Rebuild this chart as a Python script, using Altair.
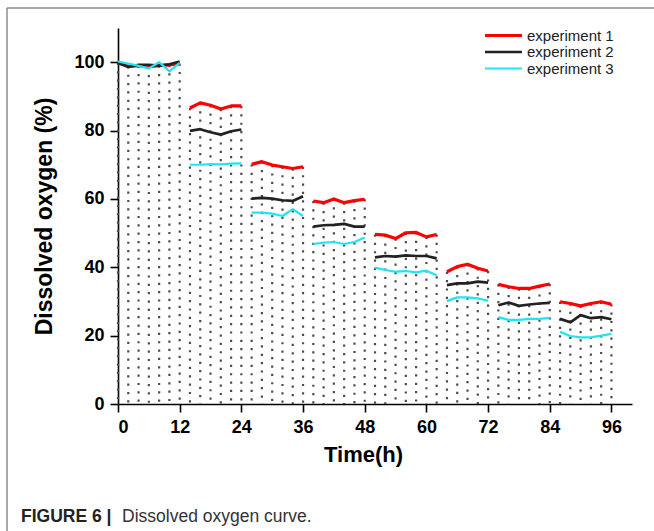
import altair as alt
import pandas as pd

# ---- data ----
times = [0, 2, 4, 6, 8, 10, 12,
         14, 16, 18, 20, 22, 24,
         26, 28, 30, 32, 34, 36,
         38, 40, 42, 44, 46, 48,
         50, 52, 54, 56, 58, 60, 62,
         64, 66, 68, 70, 72,
         74, 76, 78, 80, 82, 84,
         86, 88, 90, 92, 94, 96]
segments = [1] * 7 + [2] * 6 + [3] * 6 + [4] * 6 + [5] * 7 + [6] * 5 + [7] * 6 + [8] * 6

exp1 = [99.8, 98.8, 99.0, 98.7, 99.0, 99.2, 99.6,
        86.6, 88.1, 87.4, 86.3, 87.2, 87.2,
        70.1, 70.9, 69.9, 69.4, 68.9, 69.4,
        59.4, 58.9, 60.0, 58.9, 59.5, 59.9,
        49.6, 49.4, 48.4, 50.1, 50.2, 48.9, 49.6,
        38.7, 40.2, 40.9, 39.7, 38.9,
        35.0, 34.3, 33.8, 33.8, 34.5, 35.1,
        29.9, 29.4, 28.7, 29.4, 29.9, 29.2]
exp2 = [99.8, 98.6, 99.2, 99.2, 99.0, 99.4, 100.2,
        79.9, 80.4, 79.5, 78.8, 79.8, 80.3,
        60.1, 60.3, 60.1, 59.6, 59.4, 60.8,
        51.9, 52.3, 52.4, 52.7, 51.9, 51.9,
        42.9, 43.3, 43.1, 43.5, 43.3, 43.3, 42.6,
        34.8, 35.3, 35.3, 35.8, 35.5,
        28.9, 29.7, 28.7, 29.1, 29.4, 29.6,
        24.9, 23.9, 26.0, 25.1, 25.4, 24.8]
exp3 = [100.2, 99.6, 98.9, 98.2, 100.0, 97.3, 99.8,
        70.0, 70.0, 70.2, 70.1, 70.3, 70.4,
        56.0, 56.0, 55.7, 55.0, 57.0, 55.0,
        46.8, 47.2, 47.4, 46.8, 47.4, 48.7,
        39.9, 39.2, 38.7, 38.9, 38.5, 39.0, 37.7,
        30.1, 31.2, 31.2, 30.9, 30.2,
        25.4, 24.6, 24.6, 24.9, 24.9, 25.2,
        21.1, 19.9, 19.5, 19.5, 20.0, 20.5]

series_names = ["experiment 1", "experiment 2", "experiment 3"]
series_colors = ["#ff0000", "#222222", "#1ee6f2"]
series_widths = [3.2, 2.2, 3.2]

x_tick_values = list(range(0, 97, 6))
y_tick_values = list(range(0, 111, 10))

caption_bold = "FIGURE 6 |"
caption_text = "Dissolved oxygen curve."

# ---- tables ----
rows = []
for name, vals in zip(series_names, [exp1, exp2, exp3]):
    for t, s, v in zip(times, segments, vals):
        rows.append({"time": t, "seg": s, "series": name, "value": v})
df = pd.DataFrame(rows)
drop_df = pd.DataFrame({"time": times, "value": exp1})
legend_df = pd.DataFrame({"series": series_names})
one = pd.DataFrame({"k": [0]})

W, H = 514, 376
FONT = "Liberation Sans"

color_scale = alt.Scale(domain=series_names, range=series_colors)
width_scale = alt.Scale(domain=series_names, range=series_widths)

x_scale = alt.Scale(domain=[0, 100], nice=False, zero=False)
y_scale = alt.Scale(domain=[0, 110], nice=False)

x_axis = alt.Axis(
    values=x_tick_values,
    labelExpr="datum.value % 12 === 0 ? datum.label : ''",
    tickSize={"condition": {"test": "datum.value % 12 === 0", "value": 8}, "value": 4},
    tickWidth=1.6, tickColor="#000", domainColor="#000", domainWidth=1.6,
    labelFont=FONT, labelFontSize=18, labelFontWeight="bold", labelColor="#000",
    labelPadding=6, grid=False,
    title="Time(h)", titleFont=FONT, titleFontSize=22, titleFontWeight="bold",
    titleColor="#000", titlePadding=8, titleX=245,
)
y_axis = alt.Axis(
    values=y_tick_values,
    labelExpr="datum.value % 20 === 0 ? datum.label : ''",
    tickSize={"condition": {"test": "datum.value % 20 === 0", "value": 8}, "value": 4},
    tickWidth=1.6, tickColor="#000", domainColor="#000", domainWidth=1.6,
    labelFont=FONT, labelFontSize=18, labelFontWeight="bold", labelColor="#000",
    labelPadding=6, grid=False,
    title="Dissolved oxygen (%)", titleFont=FONT, titleFontSize=23,
    titleFontWeight="bold", titleColor="#000", titlePadding=17,
)

drops = alt.Chart(drop_df).mark_rule(
    color="#4d4d4d", strokeWidth=2.2, strokeDash=[2.2, 6.15], strokeCap="butt"
).encode(
    x=alt.X("time:Q", scale=x_scale, axis=x_axis),
    y=alt.Y("value:Q", scale=y_scale, axis=y_axis),
    y2=alt.datum(0),
)

line_layers = []
for name in series_names:
    line_layers.append(
        alt.Chart(df).transform_filter(alt.datum.series == name).mark_line(
            strokeJoin="round", strokeCap="butt"
        ).encode(
            x=alt.X("time:Q", scale=x_scale),
            y=alt.Y("value:Q", scale=y_scale),
            detail="seg:N",
            color=alt.Color("series:N", scale=color_scale, legend=None),
            strokeWidth=alt.StrokeWidth("series:N", scale=width_scale, legend=None),
            order="time:Q",
        )
    )

main = alt.layer(drops, *line_layers)

leg_y = alt.Y("series:N", sort=series_names,
              scale=alt.Scale(type="point", domain=series_names, range=[7.5, 40.5], padding=0),
              axis=None)
leg_rules = alt.Chart(legend_df).mark_rule().encode(
    x=alt.value(367), x2=alt.value(404),
    y=leg_y,
    color=alt.Color("series:N", scale=color_scale, legend=None),
    strokeWidth=alt.StrokeWidth("series:N", scale=width_scale, legend=None),
)
leg_text = alt.Chart(legend_df).mark_text(
    align="left", baseline="middle", font=FONT, fontSize=15, color="#222"
).encode(
    x=alt.value(409),
    y=leg_y,
    text="series:N",
)
legend = alt.layer(leg_rules, leg_text)

frame_top = alt.Chart(one).mark_rule(color="#8c8c8c", strokeWidth=1.5).encode(
    x=alt.value(-111), x2=alt.value(540), y=alt.value(-20)
)
frame_left = alt.Chart(one).mark_rule(color="#8c8c8c", strokeWidth=1.5).encode(
    x=alt.value(-111), y=alt.value(-20), y2=alt.value(510)
)
cap1 = alt.Chart(one).mark_text(
    align="left", baseline="alphabetic", font=FONT,
    fontSize=17.5, fontWeight="bold", color="#222"
).encode(x=alt.value(-97), y=alt.value(493.5), text=alt.value(caption_bold))
cap2 = alt.Chart(one).mark_text(
    align="left", baseline="alphabetic", font=FONT, fontSize=17.5, color="#333"
).encode(x=alt.value(4), y=alt.value(493.5), text=alt.value(caption_text))
deco = alt.layer(frame_top, frame_left, cap1, cap2)

chart = alt.layer(main, legend, deco).resolve_scale(
    y="independent", color="shared", strokeWidth="shared"
).properties(
    width=W, height=H,
    autosize=alt.AutoSizeParams(type="none"),
    padding={"left": 118, "top": 28, "right": 22, "bottom": 127},
    background="white",
).configure_view(stroke=None)

chart.save("out.html", embed_options={"renderer": "svg", "actions": False})
